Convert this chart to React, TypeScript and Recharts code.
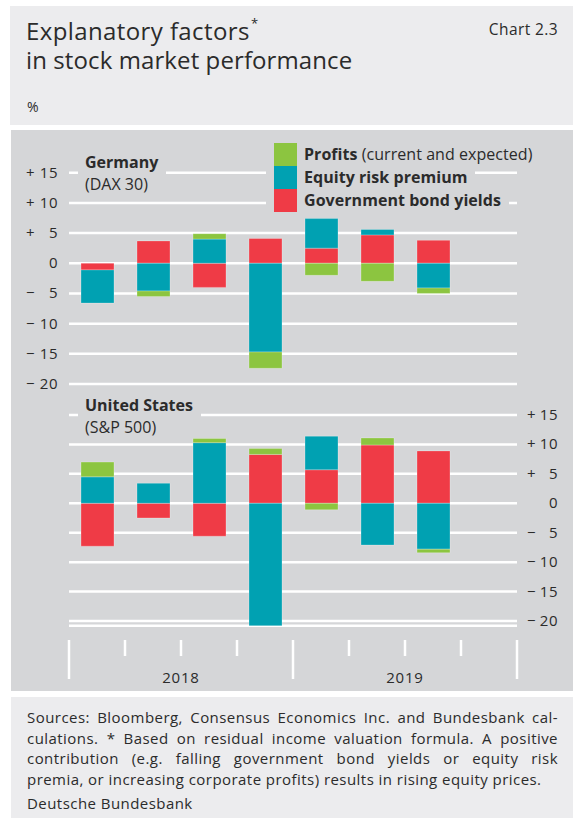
import React from "react";
import { BarChart, Bar, XAxis, YAxis, CartesianGrid } from "recharts";

const quarters = ["2018 Q1", "2018 Q2", "2018 Q3", "2018 Q4", "2019 Q1", "2019 Q2", "2019 Q3", "2019 Q4"];

// Germany (DAX 30)
const deBond = [-1.1, 3.7, -4.0, 4.1, 2.5, 4.7, 3.8, null];
const deEquity = [-5.5, -4.6, 4.0, -14.7, 4.9, 0.9, -4.1, null];
const deProfits = [0, -0.9, 0.9, -2.7, -2.0, -3.0, -0.9, null];

// United States (S&P 500)
const usBond = [-7.3, -2.5, -5.6, 8.3, 5.7, 9.9, 8.9, null];
const usEquity = [4.5, 3.4, 10.3, -20.8, 5.7, -7.1, -7.8, null];
const usProfits = [2.5, 0, 0.7, 1.0, -1.1, 1.2, -0.6, null];

const yTicks = [-20, -15, -10, -5, 0, 5, 10, 15];
// year label placed at the right boundary of these quarter indices
const yearLabelAfter: Record<number, string> = { 1: "2018", 5: "2019" };

const RED = "#ef3b46";
const TEAL = "#00a1b2";
const GREEN = "#8cc540";
const PANEL = "#d5d6d8";
const LIGHT = "#ececee";
const TXT = "#2b2b2b";
const FONT = "'Open Sans', sans-serif";

const deData = quarters.map((q, i) => ({ q, bond: deBond[i], equity: deEquity[i], profits: deProfits[i] }));
const usData = quarters.map((q, i) => ({ q, bond: usBond[i], equity: usEquity[i], profits: usProfits[i] }));

const makeYTick = (signX: number, numX: number) => (props: any) => {
  const { y, payload } = props;
  const v = payload.value as number;
  const sign = v > 0 ? "+" : v < 0 ? "\u2212" : "";
  return (
    <g>
      {sign && (
        <text x={signX} y={y} dy={5} fontSize={15} fill={TXT} fontFamily={FONT} textAnchor="start">
          {sign}
        </text>
      )}
      <text x={numX} y={y} dy={5} fontSize={15} fill={TXT} fontFamily={FONT} textAnchor="end" letterSpacing={0.5}>
        {Math.abs(v)}
      </text>
    </g>
  );
};

const QTick = (props: any) => {
  const { x, payload, index } = props;
  const half = payload && payload.offset ? payload.offset : 28;
  const i = typeof index === "number" ? index : payload.index;
  const left = x - half;
  const right = x + half;
  const isLast = i === quarters.length - 1;
  return (
    <g>
      <line x1={left} x2={left} y1={240} y2={i % 4 === 0 ? 279 : 256} stroke="#fff" strokeWidth={2.5} />
      {isLast && <line x1={right} x2={right} y1={240} y2={279} stroke="#fff" strokeWidth={2.5} />}
      {yearLabelAfter[i] && (
        <text x={right} y={283} fontSize={15} fill={TXT} fontFamily={FONT} textAnchor="middle" letterSpacing={0.8}>
          {yearLabelAfter[i]}
        </text>
      )}
    </g>
  );
};

const barStroke = "rgba(255,255,255,0.25)";

export default function App() {
  const abs = (s: React.CSSProperties): React.CSSProperties => ({ position: "absolute", ...s });
  const legendRow = (color: string, content: React.ReactNode, top: number) => (
    <div style={abs({ left: 266, top, height: 23, display: "flex", alignItems: "center", background: PANEL, paddingLeft: 8, paddingRight: 8 })}>
      <div style={{ width: 23, height: 23, background: color, marginRight: 7 }} />
      <div style={{ fontSize: 16, letterSpacing: 0.05, color: TXT, whiteSpace: "nowrap", lineHeight: "23px" }}>{content}</div>
    </div>
  );
  return (
    <div style={abs({ left: 0, top: 0, width: 573, height: 819, background: "#fff", fontFamily: FONT, color: TXT })}>
      {/* header */}
      <div style={abs({ left: 10, top: 6, width: 563, height: 119, background: LIGHT })} />
      <div style={abs({ left: 26, top: 16, fontSize: 24, letterSpacing: 0.4, lineHeight: "29px", height: 29, whiteSpace: "nowrap" })}>
        Explanatory factors
      </div>
      <div style={abs({ left: 251, top: 17, fontSize: 13, lineHeight: "13px" })}>*</div>
      <div style={abs({ left: 26, top: 45.3, fontSize: 24, letterSpacing: 0.1, lineHeight: "29px", height: 29, whiteSpace: "nowrap" })}>
        in stock market performance
      </div>
      <div style={abs({ right: 15, top: 19, fontSize: 15.5, letterSpacing: 0.4, lineHeight: "20px" })}>Chart 2.3</div>
      <div style={abs({ left: 27, top: 97, fontSize: 14, lineHeight: "20px" })}>%</div>

      {/* chart panel */}
      <div style={abs({ left: 11, top: 130, width: 562, height: 561, background: PANEL })} />

      <div style={abs({ left: 0, top: 130, width: 573, height: 270 })}>
        <BarChart width={573} height={270} data={deData} stackOffset="sign" margin={{ top: 42.7, right: 56, bottom: 16, left: 0 }} barSize={33}>
          <CartesianGrid vertical={false} stroke="#fff" strokeWidth={2.5} />
          <XAxis dataKey="q" hide />
          <YAxis width={69} domain={[-20, 15]} ticks={yTicks} axisLine={false} tickLine={false} tick={makeYTick(26, 58)} interval={0} />
          <Bar dataKey="bond" stackId="a" fill={RED} stroke={barStroke} isAnimationActive={false} />
          <Bar dataKey="equity" stackId="a" fill={TEAL} stroke={barStroke} isAnimationActive={false} />
          <Bar dataKey="profits" stackId="a" fill={GREEN} stroke={barStroke} isAnimationActive={false} />
        </BarChart>
      </div>

      <div style={abs({ left: 0, top: 400, width: 573, height: 290 })}>
        <BarChart width={573} height={290} data={usData} stackOffset="sign" margin={{ top: 15, right: 0, bottom: 0, left: 69 }} barSize={33}>
          <CartesianGrid vertical={false} stroke="#fff" strokeWidth={2.5} />
          <XAxis dataKey="q" height={64.3} axisLine={false} tickLine={false} tick={<QTick />} interval={0} />
          <YAxis orientation="right" width={56} domain={[-20, 15]} ticks={yTicks} axisLine={false} tickLine={false} tick={makeYTick(527, 558)} interval={0} />
          <Bar dataKey="bond" stackId="a" fill={RED} stroke={barStroke} isAnimationActive={false} />
          <Bar dataKey="equity" stackId="a" fill={TEAL} stroke={barStroke} isAnimationActive={false} />
          <Bar dataKey="profits" stackId="a" fill={GREEN} stroke={barStroke} isAnimationActive={false} />
        </BarChart>
      </div>

      {/* panel labels */}
      <div style={abs({ left: 78, top: 151, width: 88, height: 44, background: PANEL })}>
        <div style={{ position: "absolute", left: 7, top: 0, fontSize: 16, fontWeight: 700, lineHeight: "22px", whiteSpace: "nowrap" }}>Germany</div>
        <div style={{ position: "absolute", left: 7, top: 22, fontSize: 16, lineHeight: "22px", whiteSpace: "nowrap" }}>(DAX 30)</div>
      </div>
      <div style={abs({ left: 78, top: 394, width: 123, height: 44, background: PANEL })}>
        <div style={{ position: "absolute", left: 7, top: 0, fontSize: 16, fontWeight: 700, lineHeight: "22px", whiteSpace: "nowrap" }}>United States</div>
        <div style={{ position: "absolute", left: 7, top: 22, fontSize: 16, lineHeight: "22px", whiteSpace: "nowrap" }}>(S&amp;P 500)</div>
      </div>

      {/* legend */}
      {legendRow(GREEN, <><b>Profits</b> (current and expected)</>, 143)}
      {legendRow(TEAL, <b>Equity risk premium</b>, 166)}
      {legendRow(RED, <b>Government bond yields</b>, 189)}

      {/* footer */}
      <div style={abs({ left: 11, top: 697, width: 562, height: 121, background: LIGHT })} />
      <div style={abs({ left: 27, top: 707, width: 531, fontSize: 15, letterSpacing: 0.45, lineHeight: "20.5px" })}>
        {[
          "Sources: Bloomberg, Consensus Economics Inc. and Bundesbank cal-",
          "culations. * Based on residual income valuation formula. A positive",
          "contribution (e.g. falling government bond yields or equity risk",
        ].map((l, i) => (
          <div key={i} style={{ textAlign: "justify", textAlignLast: "justify", whiteSpace: "nowrap" }}>{l}</div>
        ))}
        <div style={{ whiteSpace: "nowrap" }}>premia, or increasing corporate profits) results in rising equity prices.</div>
        <div style={{ marginTop: 4 }}>Deutsche Bundesbank</div>
      </div>
    </div>
  );
}
